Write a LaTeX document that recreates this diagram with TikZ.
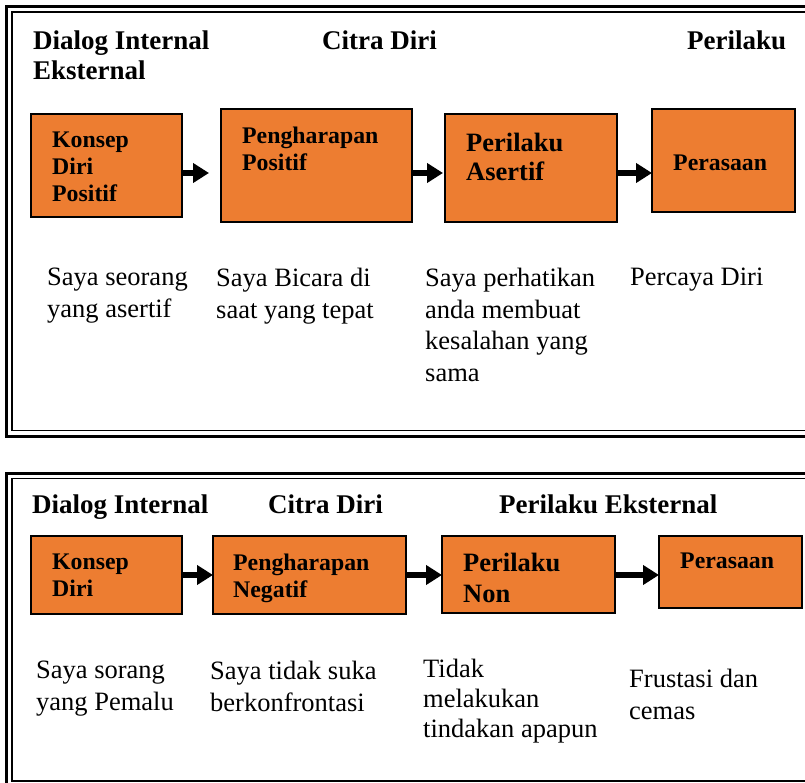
\documentclass[tikz,border=0pt]{standalone}
\usepackage{fontspec}
\setmainfont{Liberation Serif}
\usetikzlibrary{arrows.meta}

\definecolor{boxorange}{HTML}{ED7D31}

\tikzset{
    box/.style={draw=black, line width=1.6pt, fill=boxorange, anchor=north west,
        inner sep=0pt, outer sep=0pt},
    boxtext/.style={anchor=north west, inner sep=0pt, align=left,
        font=\bfseries\fontsize{23.8}{27}\selectfont},
    bigtext/.style={anchor=north west, inner sep=0pt, align=left,
        font=\bfseries\fontsize{26.5}{30}\selectfont},
    headtext/.style={anchor=north west, inner sep=0pt, align=left,
        font=\bfseries\fontsize{27}{30}\selectfont},
    bodytext/.style={anchor=north west, inner sep=0pt, align=left,
        font=\fontsize{26.5}{31.5}\selectfont},
    flow/.style={-{Triangle[length=16pt,width=19pt]}, line width=5.5pt},
    outerframe/.style={line width=3pt},
    innerframe/.style={line width=1.8pt}
}

\begin{document}
\begin{tikzpicture}[x=1pt, y=-1pt]
    \useasboundingbox (0,0) rectangle (805,783);
    \clip (0,0) rectangle (805,783);

    % Frames (thick-thin border)
    \draw[outerframe] (6.5,7) rectangle (830,436);
    \draw[innerframe] (12,12) rectangle (830,430.5);
    \draw[outerframe] (6.5,473) rectangle (830,788);
    \draw[innerframe] (12,478.5) rectangle (830,781);

    % Panel 1: positive chain
    \node (h11) at (33, 30.6) [headtext] {Dialog Internal\\Eksternal};
    \node (h12) at (322, 30.6) [headtext] {Citra Diri};
    \node (h13) at (687, 30.6) [headtext] {Perilaku};

    \node (k1) at (31,114) [box, minimum width=151pt, minimum height=103pt] {};
    \node (p1) at (221,109) [box, minimum width=191pt, minimum height=113pt] {};
    \node (a1) at (445,114) [box, minimum width=172pt, minimum height=108pt] {};
    \node (r1) at (652,109) [box, minimum width=143pt, minimum height=103pt] {};

    \node (k1t) at (52,131.8) [boxtext] {Konsep\\Diri\\Positif};
    \node (p1t) at (242,126.8) [boxtext] {Pengharapan\\Positif};
    \node (a1t) at (466,133) [bigtext, font=\bfseries\fontsize{26.5}{29}\selectfont] {Perilaku\\Asertif};
    \node (r1t) at (673,154.8) [boxtext] {Perasaan};

    \coordinate (ytop) at (0,173);
    \draw[flow] (k1.east |- ytop) -- ([xshift=-12pt]p1.west |- ytop);
    \draw[flow] (p1.east |- ytop) -- ([xshift=-2pt]a1.west |- ytop);
    \draw[flow] (a1.east |- ytop) -- (r1.west |- ytop);

    \node (s11) at (47,268) [bodytext] {Saya seorang\\yang asertif};
    \node (s12) at (216,268) [bodytext] {Saya Bicara di\\saat yang tepat};
    \node (s13) at (425,268) [bodytext] {Saya perhatikan\\anda membuat\\kesalahan yang\\sama};
    \node (s14) at (630,268) [bodytext] {Percaya Diri};

    % Panel 2: negative chain
    \node (h21) at (32, 494.6) [headtext] {Dialog Internal};
    \node (h22) at (268, 494.6) [headtext] {Citra Diri};
    \node (h23) at (499, 494.6) [headtext] {Perilaku Eksternal};

    \node (k2) at (31,536) [box, minimum width=151pt, minimum height=78pt] {};
    \node (p2) at (213,536) [box, minimum width=193pt, minimum height=78pt] {};
    \node (a2) at (442,536) [box, minimum width=173pt, minimum height=77pt] {};
    \node (r2) at (659,536) [box, minimum width=143pt, minimum height=72pt] {};

    \node (k2t) at (52,553.8) [boxtext] {Konsep\\Diri};
    \node (p2t) at (233,553.8) [boxtext] {Pengharapan\\Negatif};
    \node (a2t) at (463,553) [bigtext, font=\bfseries\fontsize{26.5}{31}\selectfont] {Perilaku\\Non};
    \node (r2t) at (680,552.8) [boxtext] {Perasaan};

    \coordinate (ybot) at (0,575);
    \draw[flow] (k2.east |- ybot) -- (p2.west |- ybot);
    \draw[flow] (p2.east |- ybot) -- (a2.west |- ybot);
    \draw[flow] (a2.east |- ybot) -- (r2.west |- ybot);

    \node (s21) at (36,661) [bodytext] {Saya sorang\\yang Pemalu};
    \node (s22) at (210,661) [bodytext] {Saya tidak suka\\berkonfrontasi};
    \node (s23) at (423,659) [bodytext, font=\fontsize{26.5}{30}\selectfont] {Tidak\\melakukan\\tindakan apapun};
    \node (s24) at (629,669) [bodytext] {Frustasi dan\\cemas};

\end{tikzpicture}
\end{document}
